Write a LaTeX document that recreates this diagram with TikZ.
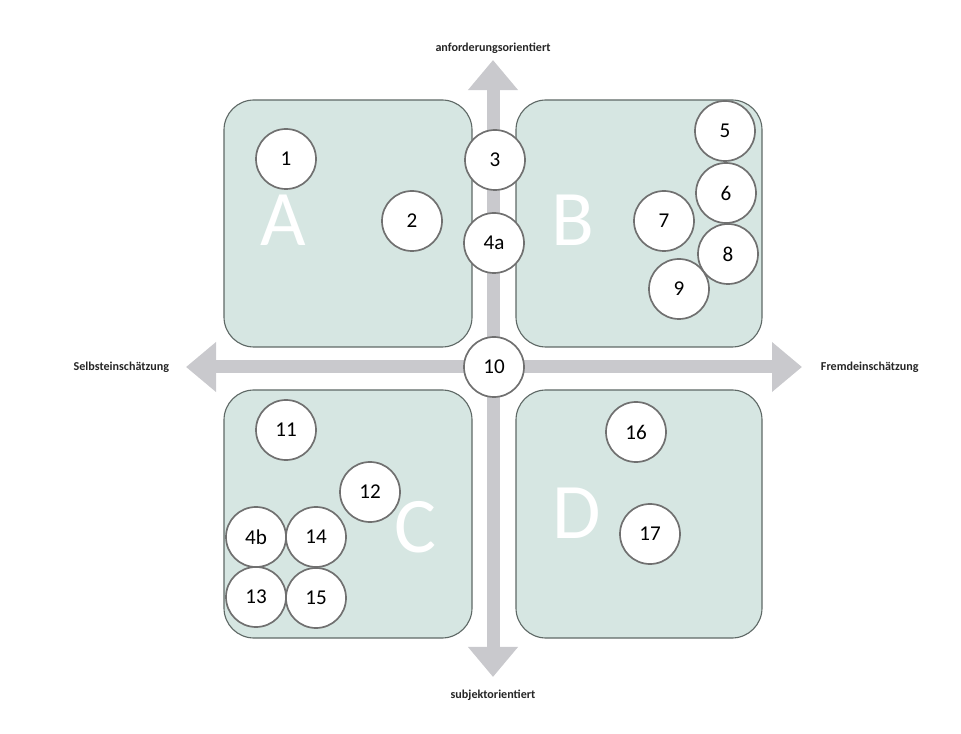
\documentclass[tikz,border=0pt]{standalone}
\usepackage{fontspec}
\setmainfont{Carlito}
\usetikzlibrary{arrows.meta}
\definecolor{quadfill}{RGB}{214,230,226}
\definecolor{quaddraw}{RGB}{95,105,102}
\definecolor{axisgray}{RGB}{201,201,205}
\definecolor{ringgray}{RGB}{112,112,112}
\begin{document}
\begin{tikzpicture}[x=0.025cm,y=-0.025cm]
                  \tikzset{
                      quad/.style={fill=quadfill,draw=quaddraw,line width=0.8pt,rounded corners=0.75cm},
                      axis/.style={axisgray,line width=0.325cm,{Triangle[width=1.2cm,length=0.75cm]}-{Triangle[width=1.2cm,length=0.75cm]}},
                      num/.style={circle,fill=white,draw=ringgray,line width=1.2pt,minimum size=1.5cm,inner sep=0pt,font=\fontsize{15}{15}\selectfont},
                      letter/.style={white,font=\fontsize{56}{56}\selectfont},
                      axislabel/.style={text=black!85,font=\fontsize{8.6}{10}\selectfont\bfseries}
                  }
                  \useasboundingbox (0,0) rectangle (961,734);
                  % axes
                  \coordinate (N) at (493,60);
                  \coordinate (S) at (493,677);
                  \coordinate (W) at (186,367);
                  \coordinate (E) at (802,367);
                  \draw[axis](S)--(N);
                  \draw[axis](W)--(E);
                  \node[axislabel] (top) at (493,48) {anforderungsorientiert};
                  \node[axislabel] (bottom) at (493,695) {subjektorientiert};
                  \node[axislabel,anchor=east] (left) at (174,367) {Selbsteinschätzung};
                  \node[axislabel,anchor=west] (right) at (816,367) {Fremdeinschätzung};
                  % quadrants
                  \draw[quad](224,100)rectangle(472,347);
                  \draw[quad](516,100)rectangle(762,347);
                  \draw[quad](224,390)rectangle(472,638);
                  \draw[quad](516,390)rectangle(762,638);
                  \node[letter] (qA) at (283,220) {A};
                  \node[letter] (qB) at (573,220) {B};
                  \node[letter] (qC) at (415,527) {C};
                  \node[letter] (qD) at (577,513) {D};
                  % numbered circles
                  \foreach \nm/\x/\y/\t in {c1/286/159/1,c2/412/221/2,c3/495/160/3,c4a/494/243/4a,
                                            c5/725/131/5,c6/726/193/6,c7/664/221/7,c8/728/254/8,c9/679/289/9,
                                            c10/494/367/10,c11/286/430/11,c12/370/492/12,c4b/256/537/4b,
                                            c14/316/537/14,c13/256/597/13,c15/316/598/15,c16/636/432/16,c17/650/534/17}
                      \node[num] (\nm) at (\x,\y) {\t};
              \end{tikzpicture}
\end{document}
